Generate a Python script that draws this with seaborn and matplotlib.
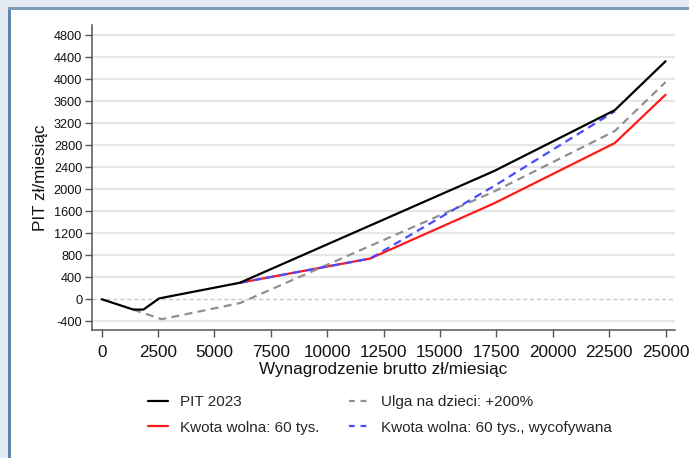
import matplotlib
matplotlib.use("Agg")
import matplotlib.pyplot as plt
import seaborn as sns
import numpy as np
import pandas as pd
from matplotlib.patches import Rectangle

# ---- data ----
pit_x = [0, 1400, 1850, 2550, 6130, 17400, 22750, 25000]
pit_y = [0, -188, -188, 15, 300, 2333, 3440, 4330]

ulga_x = [1400, 2660, 6130, 17400, 22750, 25000]
ulga_y = [-188, -364, -70, 1960, 3060, 3950]

kwota_x = [6130, 11900, 17400, 22750, 25000]
kwota_y = [300, 740, 1745, 2842, 3721]

wycof_x = [6130, 11900, 17400, 22750]
wycof_y = [300, 740, 2060, 3420]

labels = ["PIT 2023", "Ulga na dzieci: +200%", "Kwota wolna: 60 tys.",
          "Kwota wolna: 60 tys., wycofywana"]
x_ticks = [0, 2500, 5000, 7500, 10000, 12500, 15000, 17500, 20000, 22500, 25000]
y_ticks = [-400, 0, 400, 800, 1200, 1600, 2000, 2400, 2800, 3200, 3600, 4000, 4400, 4800]

sns.set_theme(style="white")
plt.rcParams['font.family'] = ['Liberation Sans', 'DejaVu Sans']

fig = plt.figure(figsize=(6.89, 4.58), dpi=100)
fig.patch.set_facecolor("#e4ebf2")
# white panel with blue border
fig.patches.append(Rectangle((10/689, 0), 1.0, 1 - 9/458, transform=fig.transFigure,
                             facecolor="white", edgecolor="none", zorder=-3))
fig.patches.append(Rectangle((8/689, 0), 3/689, 1 - 7/458, transform=fig.transFigure,
                             facecolor="#5f86aa", edgecolor="none", zorder=-2))
fig.patches.append(Rectangle((8/689, 1 - 10/458), 1.0, 3/458, transform=fig.transFigure,
                             facecolor="#7d9bbb", edgecolor="none", zorder=-2))

ax = fig.add_axes([92/689, 1 - 330/458, (675 - 92)/689, (330 - 25)/458])
ax.set_zorder(2)
ax.set_facecolor("white")

df_pit = pd.DataFrame({"x": pit_x, "y": pit_y})
df_ulga = pd.DataFrame({"x": ulga_x, "y": ulga_y})
df_kw = pd.DataFrame({"x": kwota_x, "y": kwota_y})
df_wy = pd.DataFrame({"x": wycof_x, "y": wycof_y})

DASH = [3.6, 2.4]
sns.lineplot(data=df_pit, x="x", y="y", ax=ax, color="black", lw=1.6, label=labels[0],
             sort=False, zorder=5)
sns.lineplot(data=df_ulga, x="x", y="y", ax=ax, color="#909090", lw=1.6, label=labels[1],
             sort=False, zorder=4)
ax.lines[-1].set_dashes(DASH)
sns.lineplot(data=df_kw, x="x", y="y", ax=ax, color="#ff1a1a", lw=1.6, label=labels[2],
             sort=False, zorder=3)
sns.lineplot(data=df_wy, x="x", y="y", ax=ax, color="#4a4aff", lw=1.6, label=labels[3],
             sort=False, zorder=4)
ax.lines[-1].set_dashes(DASH)

ax.set_xlim(-430, 25420)
ax.set_ylim(-560, 4990)
ax.set_xticks(x_ticks)
ax.set_yticks(y_ticks)
ax.set_xticklabels([str(v) for v in x_ticks], fontsize=12.3)
ax.set_yticklabels([str(v) for v in y_ticks], fontsize=9.2)
ax.set_xlabel("Wynagrodzenie brutto zł/miesiąc", fontsize=12.3, labelpad=1, color="#111111")
ax.set_ylabel("PIT zł/miesiąc", fontsize=12.3, labelpad=4, color="#111111")

ax.grid(axis="y", color="#e6e6e6", lw=1.6)
ax.set_axisbelow(True)
for v, gl in zip(y_ticks, ax.get_ygridlines()):
    if v == 0:
        gl.set_color("#c8c8c8")
        gl.set_linestyle((0, (3, 2)))
        gl.set_linewidth(1.0)

for s in ["top", "right"]:
    ax.spines[s].set_visible(False)
for s in ["left", "bottom"]:
    ax.spines[s].set_color("#555555")
    ax.spines[s].set_linewidth(1.1)
ax.tick_params(axis="both", which="major", direction="out", length=5, width=1.0,
               color="#555555", labelcolor="#111111", left=True, bottom=True)
ax.tick_params(axis="y", pad=2)
ax.tick_params(axis="x", pad=6)

handles, labs = ax.get_legend_handles_labels()
ax.get_legend().remove()
order = [0, 2, 1, 3]
leg = fig.legend([handles[i] for i in order], [labs[i] for i in order], ncol=2,
                 loc="center", bbox_to_anchor=(380/689, 1 - 415/458), frameon=False,
                 fontsize=11, handlelength=1.3, handletextpad=0.8, columnspacing=1.9,
                 labelspacing=0.75)
for ln in leg.get_lines():
    if ln.get_linestyle() != "-":
        ln.set_dashes([2.6, 2.6])

fig.savefig("out.png", dpi=100, facecolor=fig.get_facecolor())
